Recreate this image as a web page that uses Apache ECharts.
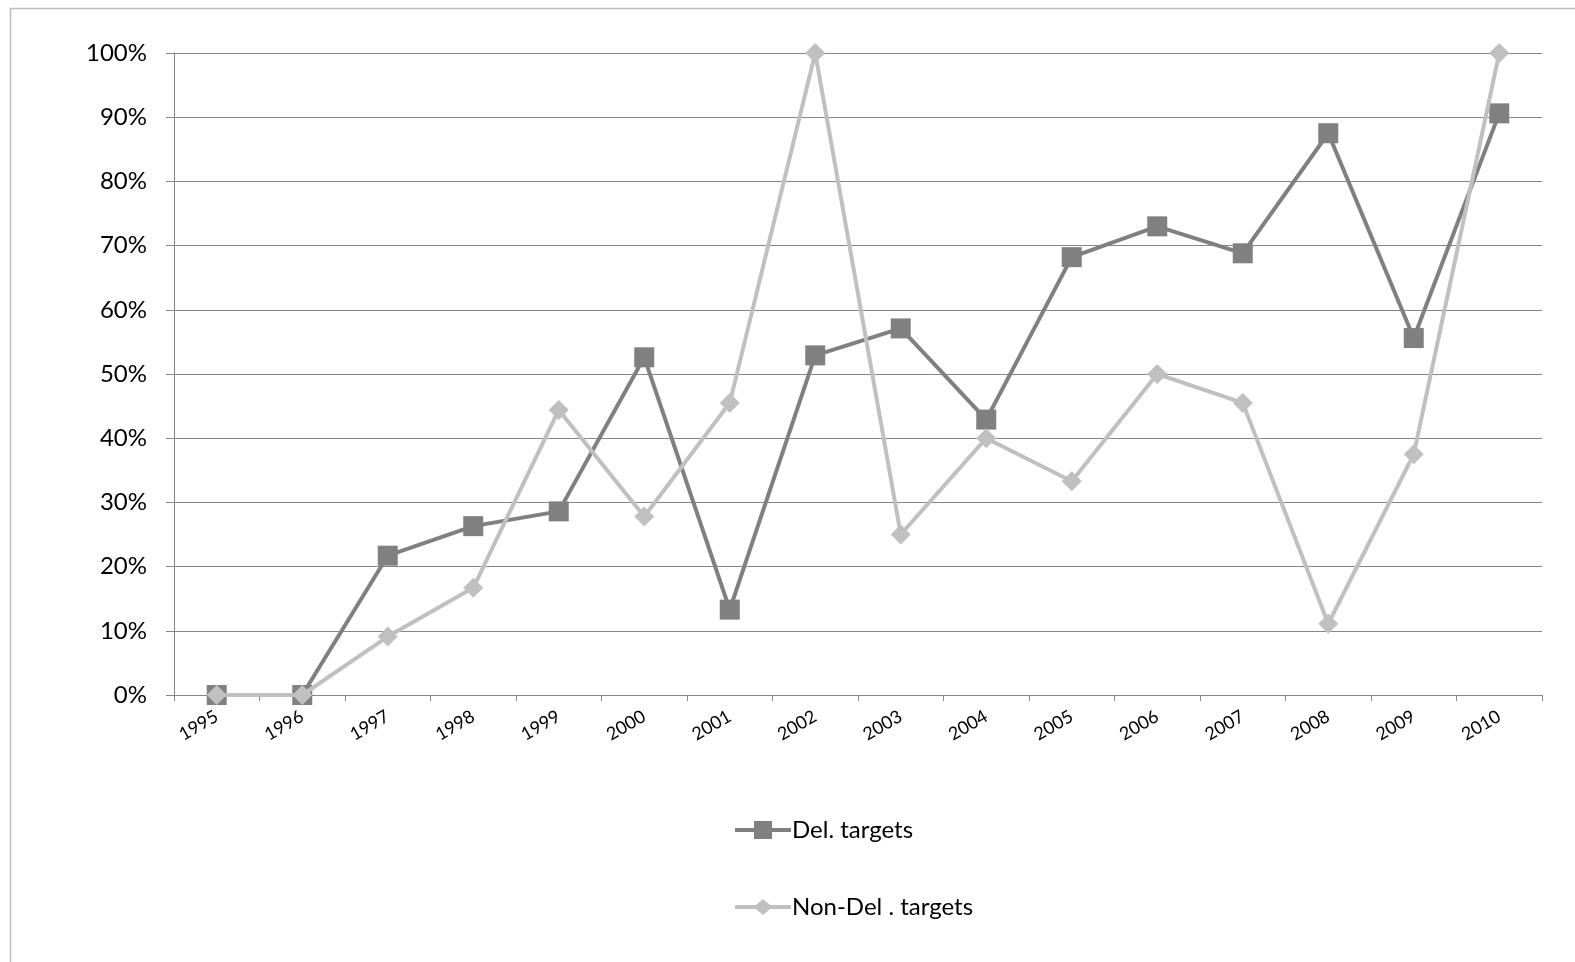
<!DOCTYPE html>
<html><head><meta charset="utf-8">
<script src="https://cdn.jsdelivr.net/npm/echarts@6/dist/echarts.min.js"></script>
<style>html,body{margin:0;padding:0;background:#fff}#c{width:1575px;height:962px}</style>
</head><body><div id="c"></div>
<script>
const years = ['1995','1996','1997','1998','1999','2000','2001','2002','2003','2004','2005','2006','2007','2008','2009','2010'];
const delTargets = [0, 0, 21.7, 26.3, 28.6, 52.6, 13.3, 52.9, 57.1, 42.9, 68.2, 73.0, 68.8, 87.5, 55.6, 90.6];
const nonDelTargets = [0, 0, 9.1, 16.7, 44.4, 27.8, 45.5, 100, 25, 40, 33.3, 50, 45.5, 11.1, 37.5, 100];
const yTicks = [0, 10, 20, 30, 40, 50, 60, 70, 80, 90, 100];

const FONT = 'Lato, "Liberation Sans", sans-serif';
const chart = echarts.init(document.getElementById('c'), null, {renderer: 'canvas'});
chart.setOption({
  animation: false,
  backgroundColor: '#fff',
  graphic: [{type: 'rect', left: 8, top: 6, shape: {width: 1700, height: 1000}, style: {fill: 'none', stroke: '#bdbdbd', lineWidth: 1.5}, silent: true}],
  grid: {left: 174, right: 33, top: 53, bottom: 267, containLabel: false},
  legend: {
    orient: 'vertical', left: 730, top: 813, itemGap: 53, itemWidth: 56, itemHeight: 20,
    textStyle: {fontFamily: FONT, fontSize: 24, color: '#000', padding: [0, 0, 0, -4]},
    data: [
      {name: 'Del. targets', icon: 'path://M0,8H19V1H37V8H56V12H37V19H19V12H0Z'},
      {name: 'Non-Del . targets', icon: 'path://M0,8H21L28,2L35,8H56V12H35L28,18L21,12H0Z'}
    ]
  },
  xAxis: {
    type: 'category', data: years, boundaryGap: true,
    axisLine: {lineStyle: {color: '#868686', width: 1}},
    axisTick: {show: true, length: 6, lineStyle: {color: '#868686'}},
    axisLabel: {rotate: 30, fontFamily: FONT, fontSize: 18, color: '#000', margin: 20}
  },
  yAxis: {
    type: 'value', min: yTicks[0], max: yTicks[yTicks.length - 1], interval: 10,
    axisLine: {show: true, lineStyle: {color: '#868686', width: 1}},
    axisTick: {show: true, length: 8, lineStyle: {color: '#868686'}},
    splitLine: {lineStyle: {color: '#868686', width: 1}},
    axisLabel: {formatter: v => v + '%', fontFamily: FONT, fontSize: 24, color: '#000', margin: 27}
  },
  series: [
    {name: 'Del. targets', type: 'line', data: delTargets, symbol: 'rect', symbolSize: 20,
     lineStyle: {color: '#808080', width: 4}, itemStyle: {color: '#808080'}, z: 2},
    {name: 'Non-Del . targets', type: 'line', data: nonDelTargets, symbol: 'diamond', symbolSize: 20,
     lineStyle: {color: '#c0c0c0', width: 4}, itemStyle: {color: '#c0c0c0'}, z: 3}
  ]
});
</script></body></html>
